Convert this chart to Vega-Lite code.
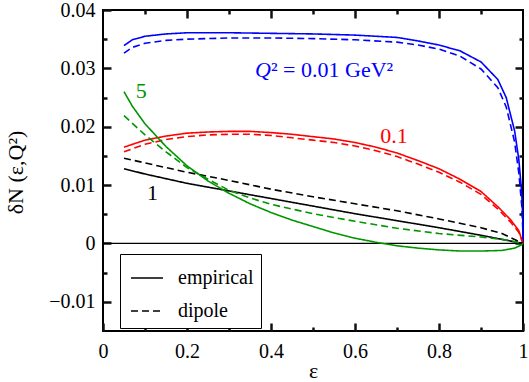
{
  "$schema": "https://vega.github.io/schema/vega-lite/v6.json",
  "width": 420,
  "height": 321,
  "autosize": "none",
  "padding": {"left": 103, "top": 10, "right": 6, "bottom": 51},
  "background": "white",
  "config": {
    "view": {"stroke": "black", "strokeWidth": 2},
    "axis": {"domain": false, "grid": false, "labelColor": "black", "labelFontSize": 20, "titleFontSize": 22, "titleFontWeight": "normal", "titleColor": "black", "labelFlush": false}
  },
  "data": {"values": [
      {"eps": 0.05, "delta": 0.0339, "Q2": "0.01", "model": "empirical"},
      {"eps": 0.07, "delta": 0.0349, "Q2": "0.01", "model": "empirical"},
      {"eps": 0.1, "delta": 0.0355, "Q2": "0.01", "model": "empirical"},
      {"eps": 0.15, "delta": 0.0359, "Q2": "0.01", "model": "empirical"},
      {"eps": 0.2, "delta": 0.0361, "Q2": "0.01", "model": "empirical"},
      {"eps": 0.3, "delta": 0.0361, "Q2": "0.01", "model": "empirical"},
      {"eps": 0.4, "delta": 0.036, "Q2": "0.01", "model": "empirical"},
      {"eps": 0.5, "delta": 0.0359, "Q2": "0.01", "model": "empirical"},
      {"eps": 0.6, "delta": 0.0357, "Q2": "0.01", "model": "empirical"},
      {"eps": 0.7, "delta": 0.0353, "Q2": "0.01", "model": "empirical"},
      {"eps": 0.75, "delta": 0.0347, "Q2": "0.01", "model": "empirical"},
      {"eps": 0.8, "delta": 0.034, "Q2": "0.01", "model": "empirical"},
      {"eps": 0.85, "delta": 0.033, "Q2": "0.01", "model": "empirical"},
      {"eps": 0.9, "delta": 0.0311, "Q2": "0.01", "model": "empirical"},
      {"eps": 0.94, "delta": 0.0281, "Q2": "0.01", "model": "empirical"},
      {"eps": 0.96, "delta": 0.025, "Q2": "0.01", "model": "empirical"},
      {"eps": 0.98, "delta": 0.0193, "Q2": "0.01", "model": "empirical"},
      {"eps": 0.99, "delta": 0.0144, "Q2": "0.01", "model": "empirical"},
      {"eps": 0.997, "delta": 0.0087, "Q2": "0.01", "model": "empirical"},
      {"eps": 0.9995, "delta": 0.004, "Q2": "0.01", "model": "empirical"},
      {"eps": 1.0, "delta": 0.0, "Q2": "0.01", "model": "empirical"},
      {"eps": 0.05, "delta": 0.0326, "Q2": "0.01", "model": "dipole"},
      {"eps": 0.07, "delta": 0.0336, "Q2": "0.01", "model": "dipole"},
      {"eps": 0.1, "delta": 0.0343, "Q2": "0.01", "model": "dipole"},
      {"eps": 0.15, "delta": 0.0348, "Q2": "0.01", "model": "dipole"},
      {"eps": 0.2, "delta": 0.035, "Q2": "0.01", "model": "dipole"},
      {"eps": 0.3, "delta": 0.0352, "Q2": "0.01", "model": "dipole"},
      {"eps": 0.4, "delta": 0.0352, "Q2": "0.01", "model": "dipole"},
      {"eps": 0.5, "delta": 0.0351, "Q2": "0.01", "model": "dipole"},
      {"eps": 0.6, "delta": 0.0349, "Q2": "0.01", "model": "dipole"},
      {"eps": 0.7, "delta": 0.0345, "Q2": "0.01", "model": "dipole"},
      {"eps": 0.75, "delta": 0.034, "Q2": "0.01", "model": "dipole"},
      {"eps": 0.8, "delta": 0.0333, "Q2": "0.01", "model": "dipole"},
      {"eps": 0.85, "delta": 0.0321, "Q2": "0.01", "model": "dipole"},
      {"eps": 0.9, "delta": 0.0299, "Q2": "0.01", "model": "dipole"},
      {"eps": 0.94, "delta": 0.0267, "Q2": "0.01", "model": "dipole"},
      {"eps": 0.96, "delta": 0.0234, "Q2": "0.01", "model": "dipole"},
      {"eps": 0.98, "delta": 0.0174, "Q2": "0.01", "model": "dipole"},
      {"eps": 0.99, "delta": 0.0121, "Q2": "0.01", "model": "dipole"},
      {"eps": 0.997, "delta": 0.0065, "Q2": "0.01", "model": "dipole"},
      {"eps": 0.9995, "delta": 0.0025, "Q2": "0.01", "model": "dipole"},
      {"eps": 1.0, "delta": 0.0, "Q2": "0.01", "model": "dipole"},
      {"eps": 0.05, "delta": 0.0165, "Q2": "0.1", "model": "empirical"},
      {"eps": 0.1, "delta": 0.0177, "Q2": "0.1", "model": "empirical"},
      {"eps": 0.15, "delta": 0.0184, "Q2": "0.1", "model": "empirical"},
      {"eps": 0.2, "delta": 0.0189, "Q2": "0.1", "model": "empirical"},
      {"eps": 0.25, "delta": 0.0191, "Q2": "0.1", "model": "empirical"},
      {"eps": 0.3, "delta": 0.0192, "Q2": "0.1", "model": "empirical"},
      {"eps": 0.35, "delta": 0.0192, "Q2": "0.1", "model": "empirical"},
      {"eps": 0.4, "delta": 0.019, "Q2": "0.1", "model": "empirical"},
      {"eps": 0.45, "delta": 0.0187, "Q2": "0.1", "model": "empirical"},
      {"eps": 0.5, "delta": 0.0183, "Q2": "0.1", "model": "empirical"},
      {"eps": 0.55, "delta": 0.0179, "Q2": "0.1", "model": "empirical"},
      {"eps": 0.6, "delta": 0.0173, "Q2": "0.1", "model": "empirical"},
      {"eps": 0.65, "delta": 0.0165, "Q2": "0.1", "model": "empirical"},
      {"eps": 0.7, "delta": 0.0155, "Q2": "0.1", "model": "empirical"},
      {"eps": 0.75, "delta": 0.0142, "Q2": "0.1", "model": "empirical"},
      {"eps": 0.8, "delta": 0.0128, "Q2": "0.1", "model": "empirical"},
      {"eps": 0.85, "delta": 0.011, "Q2": "0.1", "model": "empirical"},
      {"eps": 0.9, "delta": 0.0089, "Q2": "0.1", "model": "empirical"},
      {"eps": 0.94, "delta": 0.0063, "Q2": "0.1", "model": "empirical"},
      {"eps": 0.97, "delta": 0.0041, "Q2": "0.1", "model": "empirical"},
      {"eps": 0.99, "delta": 0.0022, "Q2": "0.1", "model": "empirical"},
      {"eps": 1.0, "delta": 0.0, "Q2": "0.1", "model": "empirical"},
      {"eps": 0.05, "delta": 0.0157, "Q2": "0.1", "model": "dipole"},
      {"eps": 0.1, "delta": 0.017, "Q2": "0.1", "model": "dipole"},
      {"eps": 0.15, "delta": 0.0178, "Q2": "0.1", "model": "dipole"},
      {"eps": 0.2, "delta": 0.0183, "Q2": "0.1", "model": "dipole"},
      {"eps": 0.25, "delta": 0.0186, "Q2": "0.1", "model": "dipole"},
      {"eps": 0.3, "delta": 0.0187, "Q2": "0.1", "model": "dipole"},
      {"eps": 0.35, "delta": 0.0187, "Q2": "0.1", "model": "dipole"},
      {"eps": 0.4, "delta": 0.0185, "Q2": "0.1", "model": "dipole"},
      {"eps": 0.45, "delta": 0.0181, "Q2": "0.1", "model": "dipole"},
      {"eps": 0.5, "delta": 0.0177, "Q2": "0.1", "model": "dipole"},
      {"eps": 0.55, "delta": 0.0173, "Q2": "0.1", "model": "dipole"},
      {"eps": 0.6, "delta": 0.0167, "Q2": "0.1", "model": "dipole"},
      {"eps": 0.65, "delta": 0.0159, "Q2": "0.1", "model": "dipole"},
      {"eps": 0.7, "delta": 0.0149, "Q2": "0.1", "model": "dipole"},
      {"eps": 0.75, "delta": 0.0136, "Q2": "0.1", "model": "dipole"},
      {"eps": 0.8, "delta": 0.0122, "Q2": "0.1", "model": "dipole"},
      {"eps": 0.85, "delta": 0.0105, "Q2": "0.1", "model": "dipole"},
      {"eps": 0.9, "delta": 0.0084, "Q2": "0.1", "model": "dipole"},
      {"eps": 0.94, "delta": 0.0059, "Q2": "0.1", "model": "dipole"},
      {"eps": 0.97, "delta": 0.0037, "Q2": "0.1", "model": "dipole"},
      {"eps": 0.99, "delta": 0.0019, "Q2": "0.1", "model": "dipole"},
      {"eps": 1.0, "delta": 0.0, "Q2": "0.1", "model": "dipole"},
      {"eps": 0.05, "delta": 0.0128, "Q2": "1", "model": "empirical"},
      {"eps": 0.1, "delta": 0.0119, "Q2": "1", "model": "empirical"},
      {"eps": 0.2, "delta": 0.0103, "Q2": "1", "model": "empirical"},
      {"eps": 0.3, "delta": 0.009, "Q2": "1", "model": "empirical"},
      {"eps": 0.4, "delta": 0.0077, "Q2": "1", "model": "empirical"},
      {"eps": 0.5, "delta": 0.0064, "Q2": "1", "model": "empirical"},
      {"eps": 0.6, "delta": 0.0051, "Q2": "1", "model": "empirical"},
      {"eps": 0.7, "delta": 0.0039, "Q2": "1", "model": "empirical"},
      {"eps": 0.8, "delta": 0.0027, "Q2": "1", "model": "empirical"},
      {"eps": 0.9, "delta": 0.0014, "Q2": "1", "model": "empirical"},
      {"eps": 1.0, "delta": 0.0, "Q2": "1", "model": "empirical"},
      {"eps": 0.05, "delta": 0.0146, "Q2": "1", "model": "dipole"},
      {"eps": 0.1, "delta": 0.0138, "Q2": "1", "model": "dipole"},
      {"eps": 0.2, "delta": 0.0122, "Q2": "1", "model": "dipole"},
      {"eps": 0.3, "delta": 0.0108, "Q2": "1", "model": "dipole"},
      {"eps": 0.4, "delta": 0.0093, "Q2": "1", "model": "dipole"},
      {"eps": 0.5, "delta": 0.008, "Q2": "1", "model": "dipole"},
      {"eps": 0.6, "delta": 0.0068, "Q2": "1", "model": "dipole"},
      {"eps": 0.7, "delta": 0.0056, "Q2": "1", "model": "dipole"},
      {"eps": 0.8, "delta": 0.0042, "Q2": "1", "model": "dipole"},
      {"eps": 0.9, "delta": 0.0027, "Q2": "1", "model": "dipole"},
      {"eps": 0.95, "delta": 0.0017, "Q2": "1", "model": "dipole"},
      {"eps": 1.0, "delta": 0.0, "Q2": "1", "model": "dipole"},
      {"eps": 0.05, "delta": 0.026, "Q2": "5", "model": "empirical"},
      {"eps": 0.07, "delta": 0.0235, "Q2": "5", "model": "empirical"},
      {"eps": 0.1, "delta": 0.0205, "Q2": "5", "model": "empirical"},
      {"eps": 0.15, "delta": 0.0166, "Q2": "5", "model": "empirical"},
      {"eps": 0.2, "delta": 0.0133, "Q2": "5", "model": "empirical"},
      {"eps": 0.25, "delta": 0.0107, "Q2": "5", "model": "empirical"},
      {"eps": 0.3, "delta": 0.0086, "Q2": "5", "model": "empirical"},
      {"eps": 0.35, "delta": 0.0068, "Q2": "5", "model": "empirical"},
      {"eps": 0.4, "delta": 0.0053, "Q2": "5", "model": "empirical"},
      {"eps": 0.45, "delta": 0.004, "Q2": "5", "model": "empirical"},
      {"eps": 0.5, "delta": 0.0029, "Q2": "5", "model": "empirical"},
      {"eps": 0.55, "delta": 0.0018, "Q2": "5", "model": "empirical"},
      {"eps": 0.6, "delta": 0.0009, "Q2": "5", "model": "empirical"},
      {"eps": 0.65, "delta": 0.0002, "Q2": "5", "model": "empirical"},
      {"eps": 0.7, "delta": -0.0004, "Q2": "5", "model": "empirical"},
      {"eps": 0.75, "delta": -0.0008, "Q2": "5", "model": "empirical"},
      {"eps": 0.8, "delta": -0.0011, "Q2": "5", "model": "empirical"},
      {"eps": 0.85, "delta": -0.0013, "Q2": "5", "model": "empirical"},
      {"eps": 0.9, "delta": -0.0013, "Q2": "5", "model": "empirical"},
      {"eps": 0.95, "delta": -0.0012, "Q2": "5", "model": "empirical"},
      {"eps": 0.98, "delta": -0.0008, "Q2": "5", "model": "empirical"},
      {"eps": 0.995, "delta": -0.0003, "Q2": "5", "model": "empirical"},
      {"eps": 1.0, "delta": 0.0, "Q2": "5", "model": "empirical"},
      {"eps": 0.05, "delta": 0.0219, "Q2": "5", "model": "dipole"},
      {"eps": 0.1, "delta": 0.0186, "Q2": "5", "model": "dipole"},
      {"eps": 0.15, "delta": 0.0157, "Q2": "5", "model": "dipole"},
      {"eps": 0.2, "delta": 0.013, "Q2": "5", "model": "dipole"},
      {"eps": 0.25, "delta": 0.011, "Q2": "5", "model": "dipole"},
      {"eps": 0.3, "delta": 0.0091, "Q2": "5", "model": "dipole"},
      {"eps": 0.35, "delta": 0.0078, "Q2": "5", "model": "dipole"},
      {"eps": 0.4, "delta": 0.0067, "Q2": "5", "model": "dipole"},
      {"eps": 0.45, "delta": 0.0059, "Q2": "5", "model": "dipole"},
      {"eps": 0.5, "delta": 0.0051, "Q2": "5", "model": "dipole"},
      {"eps": 0.6, "delta": 0.0038, "Q2": "5", "model": "dipole"},
      {"eps": 0.7, "delta": 0.0026, "Q2": "5", "model": "dipole"},
      {"eps": 0.8, "delta": 0.0017, "Q2": "5", "model": "dipole"},
      {"eps": 0.9, "delta": 0.0011, "Q2": "5", "model": "dipole"},
      {"eps": 0.95, "delta": 0.0007, "Q2": "5", "model": "dipole"},
      {"eps": 1.0, "delta": 0.0, "Q2": "5", "model": "dipole"}
  ]},
  "resolve": {"axis": {"x": "independent", "y": "independent"}},
  "layer": [
    {
      "data": {"values": [{"zero": 0}]},
      "mark": {"type": "rule", "color": "black", "strokeWidth": 1.2},
      "encoding": {
        "y": {"field": "zero", "type": "quantitative", "scale": {"domain": [-0.015, 0.04], "nice": false}, "axis": null}
      }
    },
    {
      "mark": {"type": "line", "strokeWidth": 1.6},
      "encoding": {
        "x": {
          "field": "eps", "type": "quantitative",
          "scale": {"domain": [0, 1], "nice": false},
          "axis": {
            "orient": "bottom",
            "values": [0, 0.2, 0.4, 0.6, 0.8, 1],
            "format": ".1~f",
            "tickSize": -8,
            "tickColor": "#101010",
            "tickWidth": 2.5,
            "labelPadding": 18,
            "labelFont": "Liberation Serif",
            "title": "ε",
            "titleFont": "Liberation Serif",
            "titleFontSize": 22,
            "titleBaseline": "alphabetic",
            "titleY": 46
          }
        },
        "y": {
          "field": "delta", "type": "quantitative",
          "scale": {"domain": [-0.015, 0.04], "nice": false},
          "axis": {
            "orient": "left",
            "values": [-0.01, 0, 0.01, 0.02, 0.03, 0.04],
            "format": ".2~f",
            "tickSize": -8,
            "tickColor": "#101010",
            "tickWidth": 2.5,
            "labelPadding": 16,
            "labelFont": "Liberation Serif",
            "title": "δN (ε,Q²)",
            "titleFont": "Liberation Serif",
            "titleBaseline": "middle",
            "titleX": -88,
            "titleY": 162
          }
        },
        "color": {
          "field": "Q2", "type": "nominal",
          "scale": {"domain": ["0.01", "0.1", "1", "5"], "range": ["#0000ff", "#ff0000", "#000000", "#009600"]},
          "legend": null
        },
        "strokeDash": {
          "field": "model", "type": "nominal",
          "scale": {"domain": ["empirical", "dipole"], "range": [[1, 0], [7, 4]]},
          "legend": {
            "title": null,
            "orient": "none",
            "legendX": 17,
            "legendY": 244,
            "strokeColor": "black",
            "fillColor": "white",
            "padding": 7,
            "symbolOffset": 3,
            "symbolType": "stroke",
            "symbolSize": 1024,
            "symbolStrokeColor": "black",
            "symbolStrokeWidth": 1.5,
            "labelFont": "Liberation Serif",
            "labelFontSize": 20,
            "labelColor": "black",
            "labelOffset": 14,
            "rowPadding": 6
          }
        }
      }
    },
    {
      "data": {"values": [
        {"eps": 0.091, "delta": 0.0262, "Q2": "5", "label": "5"},
        {"eps": 0.118, "delta": 0.0086, "Q2": "1", "label": "1"},
        {"eps": 0.693, "delta": 0.0184, "Q2": "0.1", "label": "0.1"}
      ]},
      "mark": {"type": "text", "font": "Liberation Serif", "fontSize": 22, "align": "center", "baseline": "middle"},
      "encoding": {
        "x": {
          "field": "eps", "type": "quantitative",
          "scale": {"domain": [0, 1], "nice": false},
          "axis": {"orient": "top", "values": [0.2, 0.4, 0.6, 0.8], "labels": false, "title": null, "tickSize": -8, "tickColor": "#101010", "tickWidth": 2.5}
        },
        "y": {
          "field": "delta", "type": "quantitative",
          "scale": {"domain": [-0.015, 0.04], "nice": false},
          "axis": {"orient": "right", "values": [-0.01, 0, 0.01, 0.02, 0.03], "labels": false, "title": null, "tickSize": -8, "tickColor": "#101010", "tickWidth": 2.5}
        },
        "text": {"field": "label"},
        "color": {"field": "Q2", "type": "nominal", "legend": null}
      }
    },
    {
      "data": {"values": [{"eps": 0.362, "delta": 0.0297, "Q2": "0.01", "label": "Q"}]},
      "mark": {"type": "text", "font": "Liberation Serif", "fontSize": 22, "fontStyle": "italic", "align": "left", "baseline": "middle"},
      "encoding": {
        "x": {
          "field": "eps", "type": "quantitative",
          "scale": {"domain": [0, 1], "nice": false},
          "axis": {"orient": "bottom", "values": [0.1, 0.3, 0.5, 0.7, 0.9], "labels": false, "title": null, "tickSize": -4, "tickColor": "#101010", "tickWidth": 2.5}
        },
        "y": {
          "field": "delta", "type": "quantitative",
          "scale": {"domain": [-0.015, 0.04], "nice": false},
          "axis": {"orient": "left", "values": [-0.005, 0.005, 0.015, 0.025, 0.035], "labels": false, "title": null, "tickSize": -4, "tickColor": "#101010", "tickWidth": 2.5}
        },
        "text": {"field": "label"},
        "color": {"field": "Q2", "type": "nominal", "legend": null}
      }
    },
    {
      "data": {"values": [{"eps": 0.4, "delta": 0.0297, "Q2": "0.01", "label": "² = 0.01 GeV²"}]},
      "mark": {"type": "text", "font": "Liberation Serif", "fontSize": 22, "align": "left", "baseline": "middle"},
      "encoding": {
        "x": {
          "field": "eps", "type": "quantitative",
          "scale": {"domain": [0, 1], "nice": false},
          "axis": {"orient": "top", "values": [0.1, 0.3, 0.5, 0.7, 0.9], "labels": false, "title": null, "tickSize": -4, "tickColor": "#101010", "tickWidth": 2.5}
        },
        "y": {
          "field": "delta", "type": "quantitative",
          "scale": {"domain": [-0.015, 0.04], "nice": false},
          "axis": {"orient": "right", "values": [-0.005, 0.005, 0.015, 0.025, 0.035], "labels": false, "title": null, "tickSize": -4, "tickColor": "#101010", "tickWidth": 2.5}
        },
        "text": {"field": "label"},
        "color": {"field": "Q2", "type": "nominal", "legend": null}
      }
    }
  ]
}
